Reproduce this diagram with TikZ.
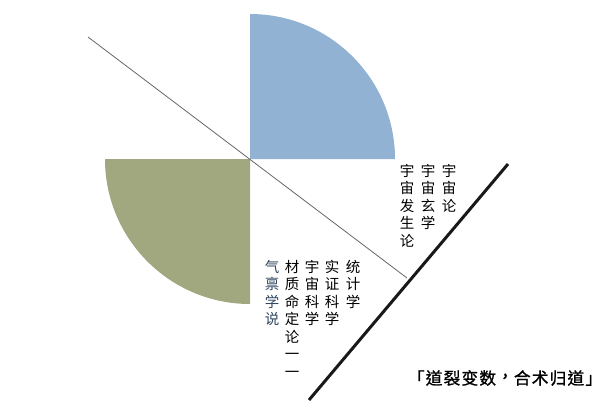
\documentclass[tikz,border=0pt]{standalone}
\usepackage{fontspec}
\newfontfamily\cjk{Noto Sans CJK TC}
\newfontfamily\cjkmotto[FakeBold=1.2,LetterSpace=7]{Noto Sans CJK TC}
\definecolor{skyblue}{RGB}{146,178,211}
\definecolor{olivegreen}{RGB}{161,168,128}
\definecolor{inkblue}{RGB}{47,69,96}
\begin{document}
\begin{tikzpicture}[x=1pt,y=-1pt,
  vcol/.style={anchor=north,inner sep=0pt,align=center,font=\cjk\fontsize{14.5}{17.5}\selectfont}]
\useasboundingbox (0,0) rectangle (599,400);

\coordinate (O) at (250,159);
\fill[color=skyblue]   (O) -- (395,159) arc[start angle=0,end angle=-90,radius=145] -- cycle;
\fill[color=olivegreen] (O) -- (105,159) arc[start angle=180,end angle=90,radius=145] -- cycle;

\coordinate (a) at (88,37);
\coordinate (b) at (407,278);
\draw[color=black!60,line width=0.8pt] (a) -- (b);
\coordinate (c) at (309,400);
\coordinate (d) at (508,164);
\draw[color=black!90,line width=3pt] (c) -- (d);

\node[vcol] (qs) at (407,164) {宇\\宙\\发\\生\\论};
\node[vcol] (xx) at (428,164) {宇\\宙\\玄\\学};
\node[vcol] (yl) at (449,164) {宇\\宙\\论};

\node[vcol,color=inkblue] (qb) at (272,260) {气\\禀\\学\\说};
\node[vcol] (cz) at (292,260) {材\\质\\命\\定\\论\\一\\一};
\node[vcol] (kx) at (312,260) {宇\\宙\\科\\学};
\node[vcol] (sz) at (332,260) {实\\证\\科\\学};
\node[vcol] (tj) at (353,260) {统\\计\\学};

% comma lifted to the middle as in the original
\node[font=\cjkmotto\fontsize{16.7}{18}\selectfont,inner sep=0pt] (motto) at (505,378)
  {「道裂变数\makebox[1.07em][l]{\hspace{0.05em}\rlap{\raisebox{0.12em}{，}}}合术归道」};

\end{tikzpicture}
\end{document}
